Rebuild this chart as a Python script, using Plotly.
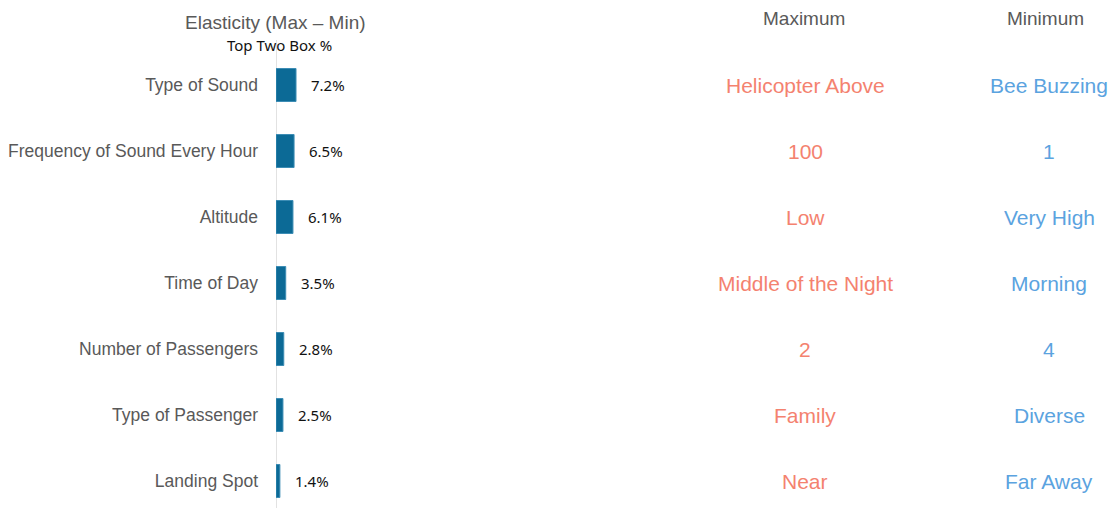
import plotly.graph_objects as go

categories = ["Type of Sound", "Frequency of Sound Every Hour", "Altitude", "Time of Day",
              "Number of Passengers", "Type of Passenger", "Landing Spot"]
elasticity = [7.2, 6.5, 6.1, 3.5, 2.8, 2.5, 1.4]
maximum = ["Helicopter Above", "100", "Low", "Middle of the Night", "2", "Family", "Near"]
minimum = ["Bee Buzzing", "1", "Very High", "Morning", "4", "Diverse", "Far Away"]

W, H = 1119, 508
x0px = 276
pxper = 2.78
xdom_end = 700
xr = (xdom_end - x0px) / pxper
row0, step = 85, 66
ytop = (0 - row0) / step
ybot = (H - row0) / step

fig = go.Figure()
fig.add_trace(go.Bar(
    x=elasticity, y=categories, orientation="h",
    marker=dict(color="#0c6a96", line=dict(color="#3d8db5", width=1)),
    width=0.5, hoverinfo="skip",
))

ann = []
for c, v in zip(categories, elasticity):
    ann.append(dict(x=v, y=c, xref="x", yref="y", text=f"{v:.1f}%", showarrow=False,
                    xanchor="left", xshift=13,
                    font=dict(family="Noto Sans, Open Sans, sans-serif", size=15, color="#111111")))
for c, mx, mn in zip(categories, maximum, minimum):
    ann.append(dict(x=805 / W, y=c, xref="paper", yref="y", text=mx, showarrow=False,
                    xanchor="center", font=dict(family="Liberation Sans, Arial", size=21, color="#f4826f")))
    ann.append(dict(x=1049 / W, y=c, xref="paper", yref="y", text=mn, showarrow=False,
                    xanchor="center", font=dict(family="Liberation Sans, Arial", size=21, color="#5ba3df")))

ann += [
    dict(x=275 / W, y=1 - 22 / H, xref="paper", yref="paper", text="Elasticity (Max – Min)",
         showarrow=False, xanchor="center", yanchor="middle",
         font=dict(family="Liberation Sans, Arial", size=19, color="#595959")),
    dict(x=279 / W, y=1 - 45 / H, xref="paper", yref="paper", text="Top Two Box %",
         showarrow=False, xanchor="center", yanchor="middle",
         font=dict(family="Noto Sans, Open Sans, sans-serif", size=15, color="#111111")),
    dict(x=804 / W, y=1 - 18 / H, xref="paper", yref="paper", text="Maximum",
         showarrow=False, xanchor="center", yanchor="middle",
         font=dict(family="Liberation Sans, Arial", size=19, color="#595959")),
    dict(x=1045 / W, y=1 - 18 / H, xref="paper", yref="paper", text="Minimum",
         showarrow=False, xanchor="center", yanchor="middle",
         font=dict(family="Liberation Sans, Arial", size=19, color="#595959")),
]

fig.update_layout(
    width=W, height=H, margin=dict(l=0, r=0, t=0, b=0),
    paper_bgcolor="white", plot_bgcolor="white", showlegend=False,
    xaxis=dict(domain=[x0px / W, xdom_end / W], range=[0, xr], visible=False, fixedrange=True),
    yaxis=dict(domain=[0, 1], range=[ybot, ytop], categoryorder="array", categoryarray=categories,
               showgrid=False, zeroline=False, showline=False, ticks="",
               ticklabelstandoff=17, fixedrange=True,
               tickfont=dict(family="Liberation Sans, Arial", size=17.5, color="#595959")),
    annotations=ann,
    shapes=[dict(type="line", xref="x", yref="paper", x0=0, x1=0, y0=0, y1=1 - 40 / H,
                 line=dict(color="#d9d9d9", width=1.5), layer="below")],
)

fig.write_html("out.html", config={"displayModeBar": False},
               post_script="document.body.style.margin='0';document.body.style.padding='0';")
